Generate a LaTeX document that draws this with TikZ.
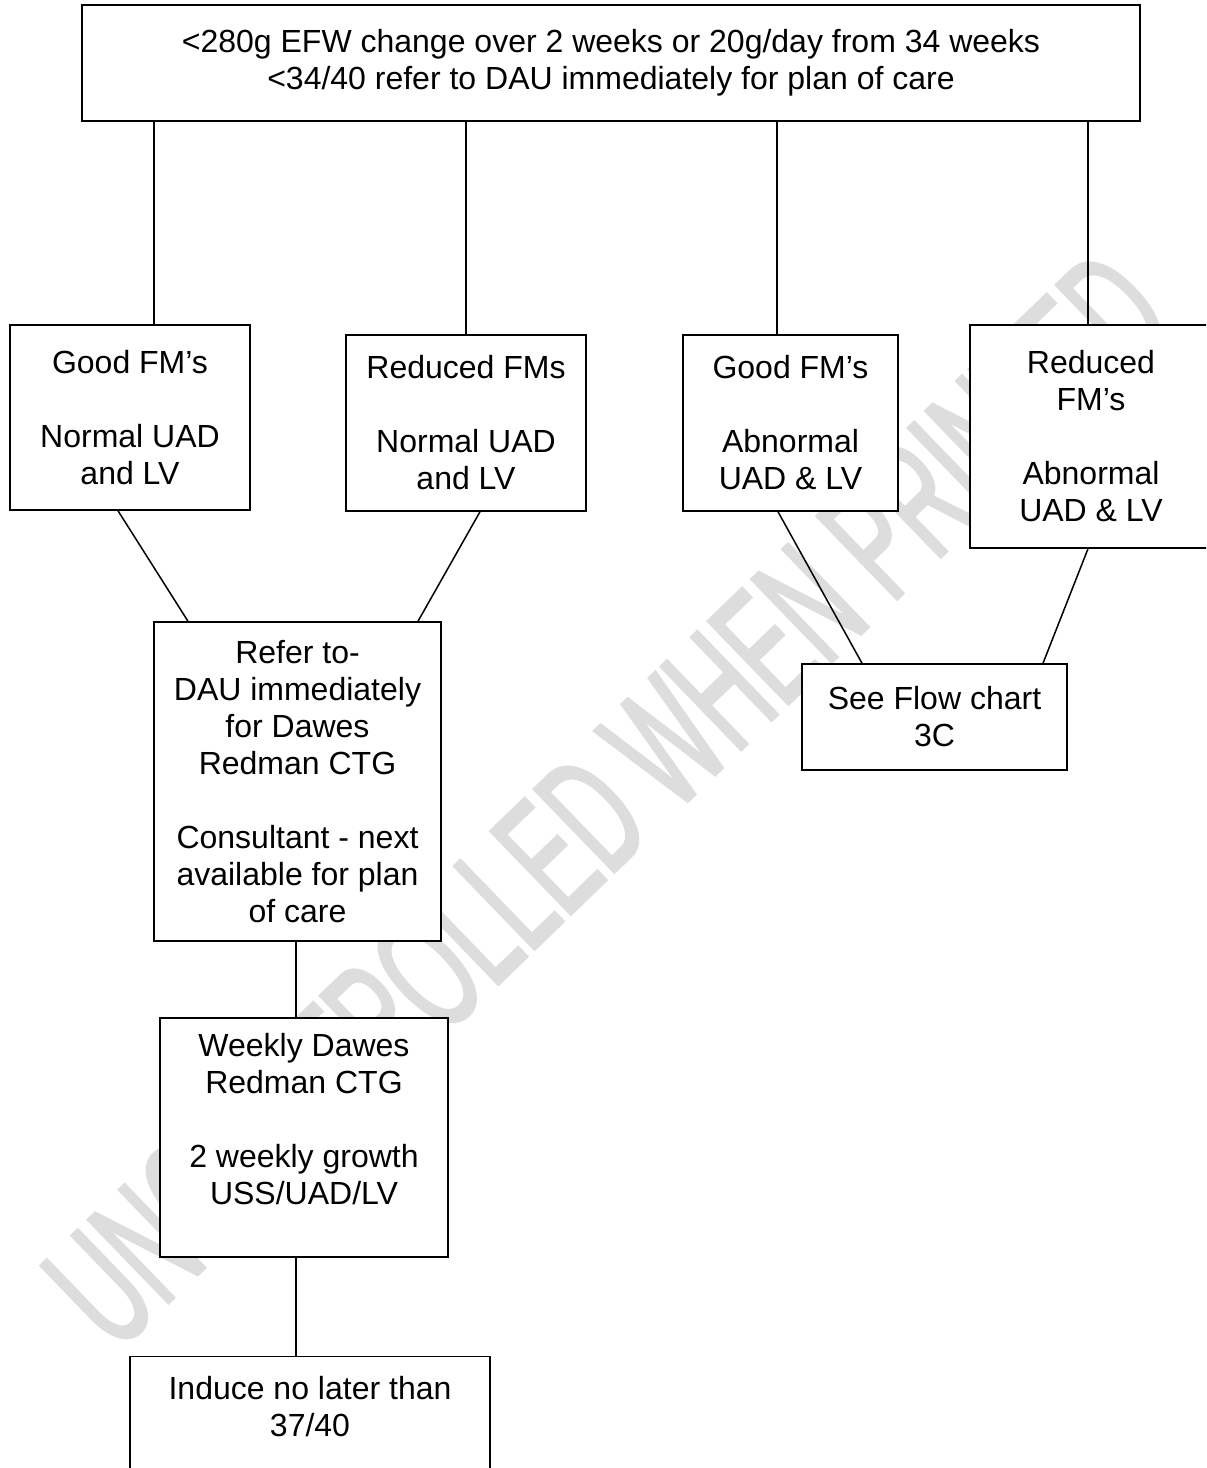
\documentclass[tikz,border=0pt]{standalone}
\usepackage{fontspec}
\setmainfont{Liberation Sans}
\newfontfamily\wmfont[FakeStretch=0.54,FakeBold=1.7]{Liberation Sans}
\usetikzlibrary{positioning,calc}
\definecolor{wmgray}{RGB}{221,221,221}

\begin{document}
\begin{tikzpicture}[x=0.5pt,y=-0.5pt,
    box/.style={draw,fill=white,line width=0.75pt,align=center,inner sep=0pt,
      font=\fontsize{16}{18.5}\selectfont},
    link/.style={line width=0.75pt}]
  \useasboundingbox (0,0) rectangle (1206,1468);
  \clip (0,0) rectangle (1206,1468);

  % watermark
  \node[wmgray,inner sep=0pt,rotate=44,font=\wmfont\fontsize{84}{84}\selectfont]
    (stamp) at (607,799) {UNCONTROLLED WHEN PRINTED};

  % boxes
  \node[box,minimum width=529pt,minimum height=58pt] (top) at (611,63)
    {<280g EFW change over 2 weeks or 20g/day from 34 weeks\\<34/40 refer to DAU immediately for plan of care};
  \node[box,minimum width=120pt,minimum height=92.5pt] (goodnorm) at (130,417.5)
    {Good FM's\\~\\Normal UAD\\and LV};
  \node[box,minimum width=120pt,minimum height=88pt] (rednorm) at (466,423)
    {Reduced FMs\\~\\Normal UAD\\and LV};
  \node[box,minimum width=107.5pt,minimum height=88pt] (goodabn) at (790.5,423)
    {Good FM's\\~\\Abnormal\\UAD \& LV};
  \node[box,minimum width=121pt,minimum height=111.5pt] (redabn) at (1091,436.5)
    {Reduced\\FM's\\~\\Abnormal\\UAD \& LV};
  \node[box,minimum width=143.5pt,minimum height=159.5pt] (refer) at (297.5,781.5)
    {Refer to-\\DAU immediately\\for Dawes\\Redman CTG\\~\\Consultant - next\\available for plan\\of care};
  \node[box,minimum width=132.5pt,minimum height=53pt] (flow) at (934.5,717)
    {See Flow chart\\3C};
  \node[box,minimum width=144pt,minimum height=119.5pt] (weekly) at (304,1137.5)
    {Weekly Dawes\\Redman CTG\\~\\2 weekly growth\\USS/UAD/LV\\~};
  \node[box,minimum width=180pt,minimum height=86.5pt] (induce) at (310,1443)
    {Induce no later than\\37/40\\~\\~};

  % from the top box
  \coordinate (t1) at ([xshift=12pt]goodnorm.north);
  \coordinate (t2) at (rednorm.north);
  \coordinate (t3) at ([xshift=-6.75pt]goodabn.north);
  \coordinate (t4) at ([xshift=-1.5pt]redabn.north);
  \foreach \t in {t1,t2,t3,t4}
    \draw[link] (\t) -- (\t |- top.south);

  % joining lines
  \draw[link] ([xshift=-6pt]goodnorm.south) -- ([xshift=-54.75pt]refer.north);
  \draw[link] ([xshift=7pt]rednorm.south) -- ([xshift=60.25pt]refer.north);
  \draw[link] ([xshift=-6.25pt]goodabn.south) -- ([xshift=-36.25pt]flow.north);
  \draw[link] ([xshift=-1.5pt]redabn.south) -- ([xshift=54.25pt]flow.north);

  \coordinate (v1) at ([xshift=-0.75pt]refer.south);
  \draw[link] (v1) -- (v1 |- weekly.north);
  \draw[link] (v1 |- weekly.south) -- (v1 |- induce.north);
\end{tikzpicture}
\end{document}
